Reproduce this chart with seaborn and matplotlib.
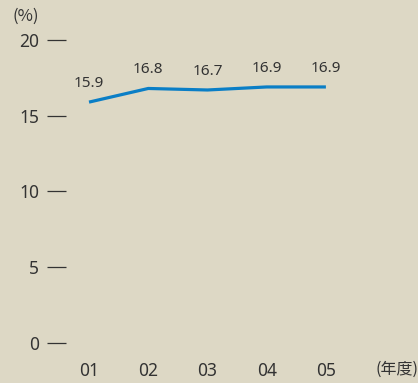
import matplotlib
matplotlib.use("Agg")
import matplotlib.pyplot as plt
import seaborn as sns
import pandas as pd

years = ["01", "02", "03", "04", "05"]
ratio = [15.9, 16.8, 16.7, 16.9, 16.9]
y_ticks = [0, 5, 10, 15, 20]

BG = "#ddd8c5"
TEXT = "#333333"
LINE = "#0a7ec6"

sns.set_theme(style="white")
plt.rcParams["font.family"] = ["Noto Sans", "Noto Sans CJK JP", "DejaVu Sans"]

df = pd.DataFrame({"pos": range(len(years)), "ratio": ratio})

fig = plt.figure(figsize=(4.18, 3.83), dpi=100, facecolor=BG)
ax = fig.add_axes([0.158, 0.1044, 0.667, 0.7912])
ax.set_facecolor(BG)

sns.lineplot(data=df, x="pos", y="ratio", ax=ax, color=LINE, linewidth=2.3,
             solid_capstyle="butt")

for x, v in zip(df["pos"], df["ratio"]):
    ax.annotate(f"{v:.1f}", (x, v), xytext=(0, 8), textcoords="offset points",
                ha="center", va="bottom", fontsize=11, color=TEXT,
                annotation_clip=False)

ax.set_xlim(-0.388, 4.32)
ax.set_ylim(0, 20)
ax.set_xticks(range(len(years)))
ax.set_xticklabels(years)
ax.set_yticks(y_ticks)
ax.set_yticklabels([str(t) for t in y_ticks])
ax.set_xlabel("")
ax.set_ylabel("")

for s in ax.spines.values():
    s.set_visible(False)

ax.tick_params(axis="y", direction="out", length=13.7, width=0.9, color=TEXT,
               pad=5.5, labelsize=12.5, labelcolor=TEXT, left=True)
ax.tick_params(axis="x", length=0, pad=13.5, labelsize=12.5, labelcolor=TEXT)

fig.text(26 / 418, 1 - 16 / 383, "(%)", ha="center", va="center",
         fontsize=12, color=TEXT, family=["Noto Sans CJK JP", "DejaVu Sans"])
fig.text(397 / 418, 1 - 369 / 383, "(年度)", ha="center", va="center",
         fontsize=11.5, color=TEXT, family=["Noto Sans CJK JP", "DejaVu Sans"])

fig.savefig("out.png", dpi=100, facecolor=BG)
